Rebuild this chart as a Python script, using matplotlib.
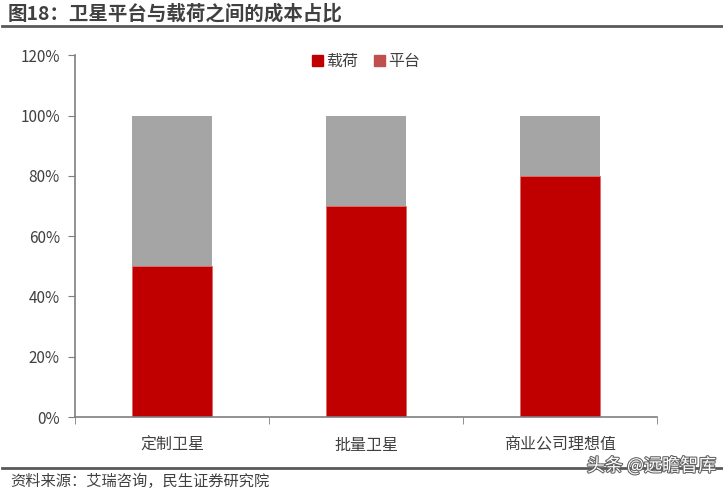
import matplotlib.pyplot as plt
import matplotlib.patheffects as pe
from matplotlib.patches import Patch
from matplotlib.ticker import FuncFormatter

plt.rcParams['font.family'] = ['Noto Sans CJK SC', 'DejaVu Sans']

categories = ['定制卫星', '批量卫星', '商业公司理想值']
payload = [50, 70, 80]
platform = [50, 30, 20]
yticks = [0, 20, 40, 60, 80, 100, 120]

fig = plt.figure(figsize=(7.23, 4.93), dpi=100)
ax = fig.add_axes([0.104, 0.154, 0.805, 0.734])

x = range(len(categories))
ax.bar(x, payload, width=0.41, color='#C00000', edgecolor='#E06666', linewidth=0.6, zorder=2)
ax.bar(x, platform, width=0.41, bottom=payload, color='#A5A5A5', linewidth=0, zorder=2)

ax.set_xlim(-0.5, 2.5)
ax.set_ylim(0, 120)
ax.set_yticks(yticks)
ax.yaxis.set_major_formatter(FuncFormatter(lambda v, p: f'{v:.0f}%'))
ax.set_xticks(list(x))
ax.set_xticklabels(categories)
ax.set_xticks([-0.5, 0.5, 1.5, 2.5], minor=True)
ax.tick_params(axis='x', which='major', length=0, pad=14, labelsize=11.5, labelcolor='#404040')
ax.tick_params(axis='x', which='minor', length=5, color='#7F7F7F', direction='out')
ax.tick_params(axis='y', length=5, color='#7F7F7F', labelsize=11, labelcolor='#404040', pad=6)
for s in ['top', 'right']:
    ax.spines[s].set_visible(False)
for s in ['left', 'bottom']:
    ax.spines[s].set_color('#7F7F7F')
    ax.spines[s].set_linewidth(1.2)

handles = [Patch(color='#C00000', label='载荷'), Patch(color='#C0504D', label='平台')]
ax.legend(handles=handles, loc='upper center', bbox_to_anchor=(0.5, 1.045), ncol=2, frameon=False,
          fontsize=11.5, handlelength=0.7, handleheight=0.7, handletextpad=0.2, columnspacing=1.0,
          labelcolor='#404040')

# title and separator lines
fig.text(0.011, 0.972, '图18：卫星平台与载荷之间的成本占比', fontsize=14, fontweight='bold',
         color='#404040', va='center', ha='left')
fig.add_artist(plt.Line2D([0.003, 1.0], [0.947, 0.947], color='#595959', linewidth=2))
fig.add_artist(plt.Line2D([0.003, 1.0], [0.051, 0.051], color='#595959', linewidth=2))
fig.text(0.014, 0.024, '资料来源：艾瑞咨询，民生证券研究院', fontsize=11, color='#404040',
         va='center', ha='left')
fig.text(0.99, 0.055, '头条 @远瞻智库', fontsize=13, color='white', va='center', ha='right',
         path_effects=[pe.withStroke(linewidth=1.5, foreground='#606060')])

fig.savefig('out.png', dpi=100)
